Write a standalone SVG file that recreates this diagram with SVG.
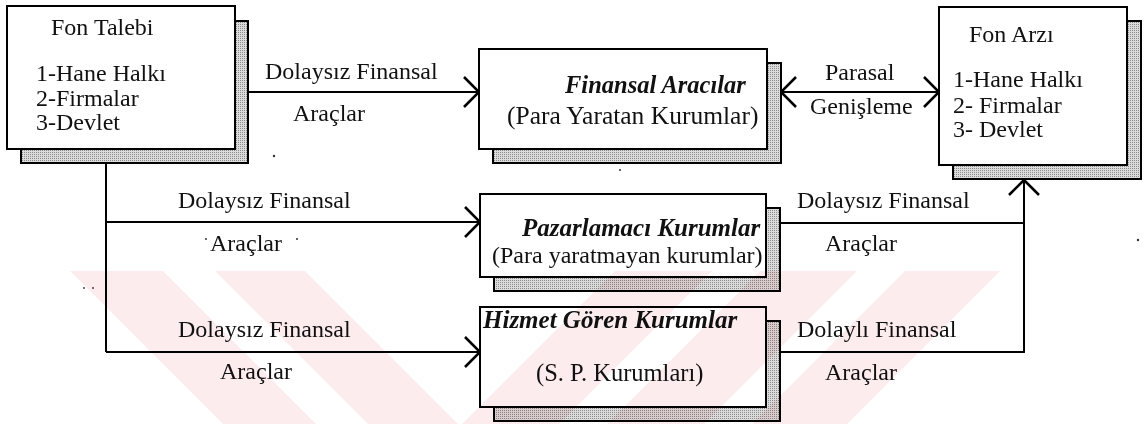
<svg xmlns="http://www.w3.org/2000/svg" width="1145" height="424" viewBox="0 0 1145 424">
<defs>
<pattern id="stip" width="2" height="2" patternUnits="userSpaceOnUse"><rect width="2" height="2" fill="#dcdcdc"/><rect width="1" height="1" fill="#8a8a8a"/></pattern>
<marker id="arr" viewBox="0 0 17 32" refX="16" refY="16" markerWidth="17" markerHeight="32" markerUnits="userSpaceOnUse" orient="auto-start-reverse"><path d="M1,1 L16,16 L1,31" fill="none" stroke="#000" stroke-width="2.6"/></marker>
</defs>
<style>
.sh{fill:url(#stip);stroke:#000;stroke-width:2}
.fr{fill:#fff;stroke:#000;stroke-width:2}
.t{font-family:"Liberation Serif","Times New Roman",serif;font-size:24px;fill:#111}
.bi{font-family:"Liberation Serif","Times New Roman",serif;font-size:25px;font-weight:bold;font-style:italic;fill:#111}
.ln{fill:none;stroke:#000;stroke-width:2}
.wm{fill:#fdecee;mix-blend-mode:multiply}
</style>
<rect width="1145" height="424" fill="#fff"/>

<g id="connectors">
<path class="ln" d="M248,92 H479" marker-end="url(#arr)"/>
<path class="ln" d="M781,92 H939" marker-start="url(#arr)" marker-end="url(#arr)"/>
<path class="ln" d="M106,163 V352"/>
<path class="ln" d="M106,222 H480" marker-end="url(#arr)"/>
<path class="ln" d="M106,352 H480" marker-end="url(#arr)"/>
<path class="ln" d="M780,223 H1024"/>
<path class="ln" d="M780,352 H1024 V180" marker-end="url(#arr)"/>
<text class="t" x="265" y="79">Dolaysız Finansal</text>
<text class="t" x="293" y="121">Araçlar</text>
<text class="t" x="825" y="80">Parasal</text>
<text class="t" x="810" y="114">Genişleme</text>
<text class="t" x="178" y="208">Dolaysız Finansal</text>
<text class="t" x="210" y="251">Araçlar</text>
<text class="t" x="797" y="208">Dolaysız Finansal</text>
<text class="t" x="825" y="251">Araçlar</text>
<text class="t" x="178" y="337">Dolaysız Finansal</text>
<text class="t" x="220" y="379">Araçlar</text>
<text class="t" x="797" y="337">Dolaylı Finansal</text>
<text class="t" x="825" y="380">Araçlar</text>
</g>

<g id="fon-talebi">
<rect class="sh" x="21" y="21" width="227" height="142"/>
<rect class="fr" x="7" y="6" width="228" height="143"/>
<text class="t" x="51" y="35">Fon Talebi</text>
<text class="t" x="36" y="81">1-Hane Halkı</text>
<text class="t" x="36" y="106">2-Firmalar</text>
<text class="t" x="36" y="130">3-Devlet</text>
</g>

<g id="finansal-aracilar">
<rect class="sh" x="493" y="63" width="288" height="100"/>
<rect class="fr" x="479" y="49" width="288" height="100"/>
<text class="bi" x="565" y="93" style="font-size:24.5px">Finansal Aracılar</text>
<text class="t" x="507" y="124" style="font-size:25.5px">(Para Yaratan Kurumlar)</text>
</g>

<g id="fon-arzi">
<rect class="sh" x="953" y="21" width="188" height="158"/>
<rect class="fr" x="939" y="7" width="188" height="158"/>
<text class="t" x="969" y="42">Fon Arzı</text>
<text class="t" x="953" y="87">1-Hane Halkı</text>
<text class="t" x="953" y="113">2- Firmalar</text>
<text class="t" x="953" y="137">3- Devlet</text>
</g>

<g id="pazarlamaci">
<rect class="sh" x="494" y="208" width="286" height="83"/>
<rect class="fr" x="480" y="194" width="286" height="83"/>
<text class="bi" x="522" y="236">Pazarlamacı Kurumlar</text>
<text class="t" x="492" y="263">(Para yaratmayan kurumlar)</text>
</g>

<g id="hizmet">
<rect class="sh" x="494" y="321" width="286" height="100"/>
<rect class="fr" x="480" y="307" width="286" height="100"/>
<text class="bi" x="483" y="328">Hizmet Gören Kurumlar</text>
<text class="t" x="536" y="381" style="font-size:24.5px">(S. P. Kurumları)</text>
</g>

<g id="specks" fill="#333">
<circle cx="274" cy="156" r="1.2"/>
<circle cx="620" cy="170" r="1"/>
<circle cx="1138" cy="240" r="1.2"/>
<circle cx="84" cy="288" r="0.9"/>
<circle cx="93" cy="288" r="0.9"/>
<circle cx="206" cy="239" r="1"/>
<circle cx="297" cy="239" r="1"/>
</g>

<g id="watermark">
<polygon class="wm" points="70,271 163,271 316,424 223,424"/>
<polygon class="wm" points="215,271 305,271 458,424 368,424"/>
<polygon class="wm" points="615,271 712,271 559,424 462,424"/>
<polygon class="wm" points="760,271 857,271 704,424 607,424"/>
<polygon class="wm" points="905,271 1000,271 847,424 752,424"/>
</g>
</svg>
